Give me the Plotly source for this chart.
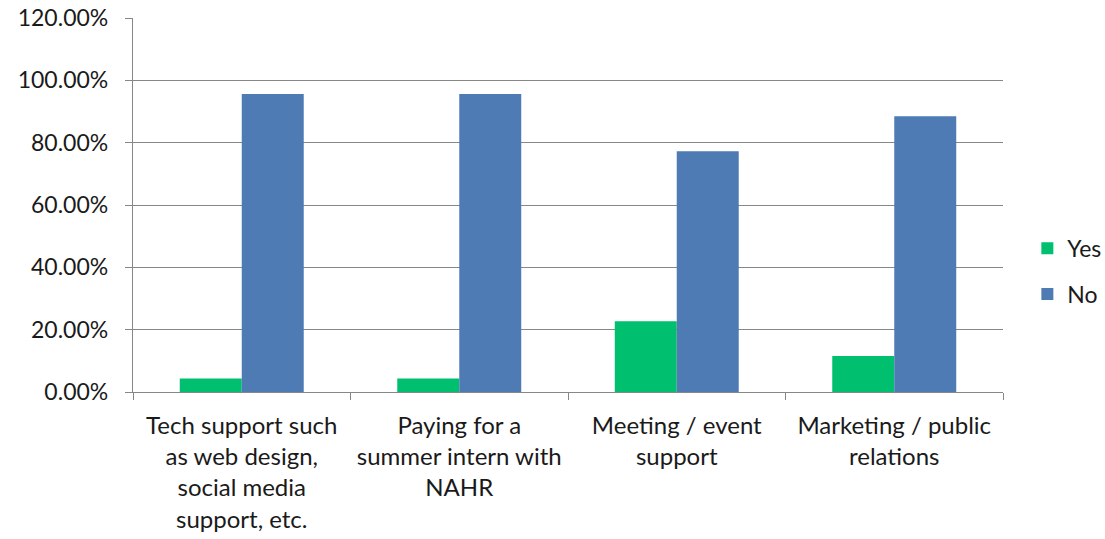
import plotly.graph_objects as go

categories = [
    "Tech support such<br>as web design,<br>social media<br>support, etc.",
    "Paying for a<br>summer intern with<br>NAHR",
    "Meeting / event<br>support",
    "Marketing / public<br>relations",
]
yes_share = [4.35, 4.35, 22.73, 11.54]
no_share = [95.65, 95.65, 77.27, 88.46]
y_ticks = [0, 20, 40, 60, 80, 100, 120]
y_tick_labels = [f"{v:.2f}%" for v in y_ticks]

grid_grey = "#878787"
font_family = "Lato, 'Open Sans', sans-serif"

fig = go.Figure()
fig.add_trace(go.Bar(name="Yes", x=categories, y=yes_share, legendgroup="yes",
                     marker=dict(color="#00BF6F", line=dict(width=0))))
fig.add_trace(go.Bar(name="No", x=categories, y=no_share, legendgroup="no",
                     marker=dict(color="#4F7BB5", line=dict(width=0))))

fig.update_layout(
    width=1105, height=539,
    margin=dict(l=133, r=102, t=18, b=147, autoexpand=False),
    paper_bgcolor="white", plot_bgcolor="white",
    barmode="group", bargap=0.43, bargroupgap=0,
    font=dict(family=font_family, size=23, color="#1a1a1a"),
    legend=dict(x=1.028, y=0.323, xanchor="left", yanchor="middle",
                font=dict(size=23), tracegroupgap=13, itemwidth=30),
    showlegend=True,
)
fig.update_xaxes(
    showline=True, linecolor=grid_grey, linewidth=1.3,
    ticks="outside", tickson="boundaries", ticklen=7, tickcolor=grid_grey,
    showgrid=False, tickfont=dict(size=24), ticklabelstandoff=12,
)
fig.update_yaxes(
    range=[0, 120], tickvals=y_ticks, ticktext=y_tick_labels,
    showline=True, linecolor=grid_grey, linewidth=1.3,
    ticks="outside", ticklen=7, tickcolor=grid_grey,
    showgrid=True, gridcolor=grid_grey, gridwidth=1.3,
    zeroline=False, tickfont=dict(size=23), ticklabelstandoff=12,
)

fig.write_html("out.html")
